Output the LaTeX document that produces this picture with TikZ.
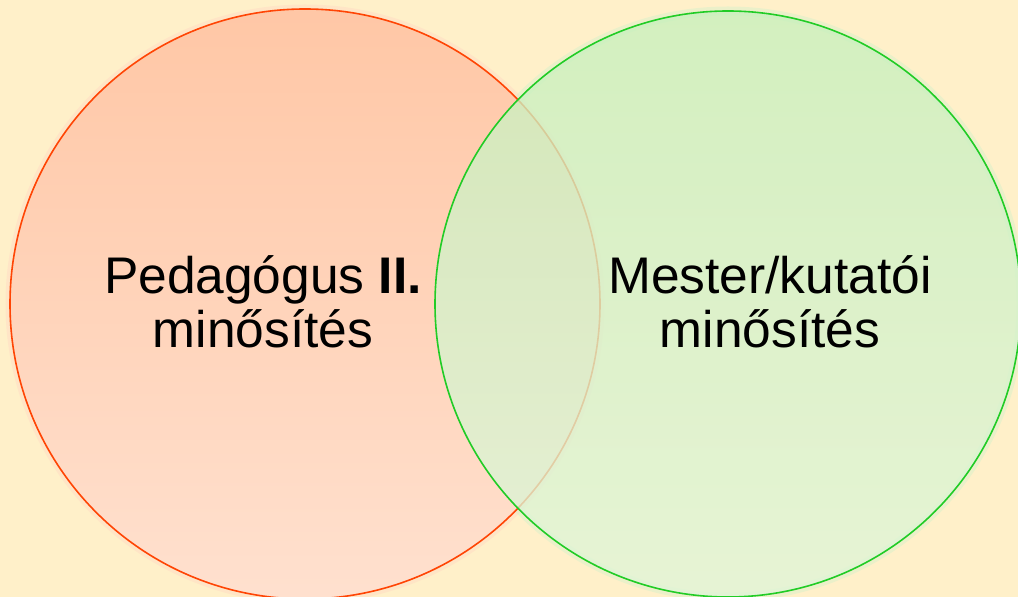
\documentclass[tikz,border=0pt]{standalone}
\usepackage{fontspec}
\setmainfont{Liberation Sans}
\usetikzlibrary{positioning}
\definecolor{mcream}{rgb}{1, 0.94, 0.79}
\definecolor{mred}{rgb}{1, 0.27, 0.02}
\definecolor{mredtop}{rgb}{1, 0.78, 0.65}
\definecolor{mredbot}{rgb}{1, 0.88, 0.81}
\definecolor{mgreen}{rgb}{0.13, 0.80, 0.15}
\definecolor{mgreentop}{rgb}{0.78, 0.94, 0.74}
\definecolor{mgreenbot}{rgb}{0.88, 0.96, 0.85}
\tikzset{set/.style = {circle, line width=1.6pt, inner sep=0pt},
         label/.style = {align=center, font=\fontsize{51.5}{54}\selectfont}}

\begin{document}
\begin{tikzpicture}[x=1pt, y=1pt]
    \useasboundingbox (0, 0) rectangle (1018, 597);
    \fill [mcream] (0, 0) rectangle (1018, 597);
    \clip (0, 0) rectangle (1018, 597);

    % soft halos
    \draw [mred!25, line width=9pt, opacity=0.35] (305, 293) circle (295);
    \draw [mgreen!25, line width=9pt, opacity=0.35] (728, 293) circle (293);

    \node [set, draw=mred, top color=mredtop, bottom color=mredbot,
           minimum size=590pt] (ped) at (305, 293) {};
    \node [set, draw=mgreen, top color=mgreentop, bottom color=mgreenbot,
           fill opacity=0.78, minimum size=586pt] (mes) at (728, 293) {};

    \node [label] (pedtxt) at (263, 295) {Pedagógus \textbf{II.}\\minősítés};
    \node [label] (mestxt) at (770, 295) {Mester/kutatói\\minősítés};
  \end{tikzpicture}
\end{document}
